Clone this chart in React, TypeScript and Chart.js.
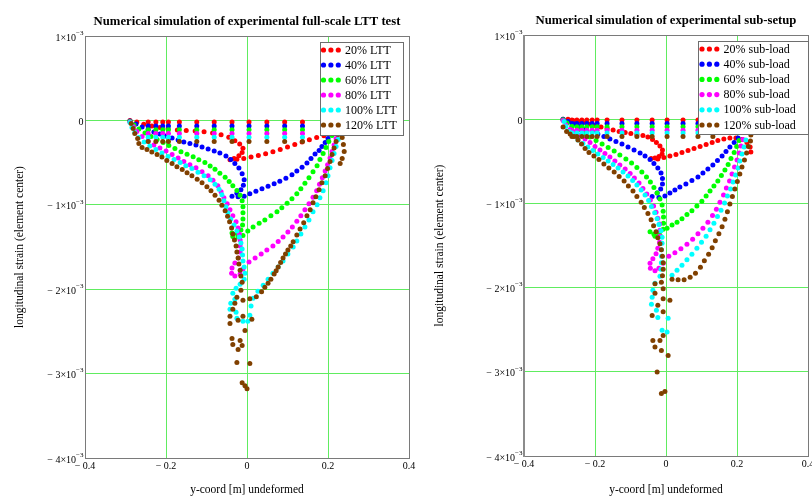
import { useEffect, useRef } from 'react';
import { Chart, registerables } from 'chart.js';

Chart.register(...registerables);

type Pt = [number, number]; // [y-coord in m, strain in 1e-3]

const SERIF = '"Liberation Serif", "Times New Roman", serif';
const GRID = 'rgb(96,236,96)';
const FRAME = '#7a7a7a';

// ---- shared axis / series definitions ----
const xTickValues = [-0.4, -0.2, 0, 0.2, 0.4];
const xTickLabels = ['\u2212 0.4', '\u2212 0.2', '0', '0.2', '0.4'];
const yTickValues = [1e-3, 0, -1e-3, -2e-3, -3e-3, -4e-3];
const yTickBase = ['1\u00d710', '0', '\u2212 1\u00d710', '\u2212 2\u00d710', '\u2212 3\u00d710', '\u2212 4\u00d710'];
const yTickExp = ['\u22123', '', '\u22123', '\u22123', '\u22123', '\u22123'];

const seriesColors = ['#ff0000', '#0000ff', '#00ff00', '#ff00ff', '#00ffff', '#804000'];
const lttLabels = ['20% LTT', '40% LTT', '60% LTT', '80% LTT', '100% LTT', '120% LTT'];
const subLabels = ['20% sub-load', '40% sub-load', '60% sub-load', '80% sub-load', '100% sub-load', '120% sub-load'];

// ---- full-scale LTT test ----
const lttFlangeX = [-0.244, -0.225, -0.208, -0.194, -0.167, -0.124, -0.081, -0.037, 0.005, 0.049, 0.093, 0.137];
const lttFlangeStrain = [-0.02, -0.065, -0.11, -0.155, -0.2, -0.25];

const ltt20: Pt[] = [
  [-0.289, 0], [-0.272, -0.02], [-0.255, -0.045], [-0.235, -0.065], [-0.215, -0.085], [-0.195, -0.1],
  [-0.172, -0.113], [-0.15, -0.12], [-0.128, -0.125], [-0.106, -0.135], [-0.085, -0.15], [-0.064, -0.17],
  [-0.045, -0.2], [-0.03, -0.24], [-0.018, -0.28], [-0.01, -0.33], [-0.012, -0.38], [-0.02, -0.42],
  [-0.032, -0.45], [-0.042, -0.465], [-0.025, -0.46], [-0.008, -0.45], [0.01, -0.435], [0.028, -0.415],
  [0.046, -0.395], [0.064, -0.372], [0.082, -0.345], [0.1, -0.315], [0.118, -0.285], [0.136, -0.255],
  [0.154, -0.228], [0.172, -0.203], [0.19, -0.182], [0.208, -0.162], [0.222, -0.145],
];
const ltt40: Pt[] = [
  [-0.289, -0.006], [-0.274, -0.042], [-0.259, -0.077], [-0.244, -0.107], [-0.23, -0.137], [-0.215, -0.161],
  [-0.2, -0.185], [-0.185, -0.208], [-0.17, -0.232], [-0.156, -0.256], [-0.141, -0.274], [-0.126, -0.292],
  [-0.111, -0.315], [-0.096, -0.339], [-0.081, -0.363], [-0.067, -0.387], [-0.052, -0.423], [-0.04, -0.464],
  [-0.03, -0.512], [-0.02, -0.565], [-0.012, -0.631], [-0.007, -0.702], [-0.009, -0.768], [-0.015, -0.821],
  [-0.025, -0.863], [-0.037, -0.899],
  [-0.022, -0.905], [-0.007, -0.899], [0.007, -0.869], [0.022, -0.839], [0.037, -0.81], [0.052, -0.78],
  [0.067, -0.75], [0.081, -0.72], [0.096, -0.685], [0.111, -0.643], [0.123, -0.601], [0.136, -0.554],
  [0.148, -0.506], [0.158, -0.452], [0.168, -0.399], [0.178, -0.357], [0.185, -0.31], [0.193, -0.262],
  [0.2, -0.214], [0.207, -0.167],
];
const ltt60: Pt[] = [
  [-0.289, -0.012], [-0.279, -0.054], [-0.267, -0.101], [-0.252, -0.149], [-0.237, -0.19], [-0.222, -0.226],
  [-0.207, -0.262], [-0.193, -0.298], [-0.178, -0.332], [-0.163, -0.37], [-0.148, -0.4], [-0.133, -0.43],
  [-0.119, -0.465], [-0.104, -0.5], [-0.091, -0.54], [-0.079, -0.58], [-0.067, -0.625], [-0.054, -0.675],
  [-0.044, -0.725], [-0.035, -0.775], [-0.025, -0.83], [-0.017, -0.887], [-0.012, -0.952], [-0.01, -1.024],
  [-0.01, -1.095], [-0.01, -1.167], [-0.011, -1.238], [-0.015, -1.298], [-0.025, -1.339], [-0.037, -1.333],
  [-0.035, -1.375], [-0.022, -1.381], [-0.01, -1.363],
  [0.002, -1.31], [0.015, -1.262], [0.03, -1.22], [0.044, -1.179], [0.059, -1.131], [0.074, -1.083],
  [0.086, -1.036], [0.099, -0.982], [0.111, -0.929], [0.123, -0.869], [0.133, -0.81], [0.143, -0.744],
  [0.153, -0.679], [0.163, -0.607], [0.173, -0.536], [0.18, -0.464], [0.188, -0.393], [0.195, -0.321],
  [0.202, -0.25], [0.21, -0.179],
];
const ltt80: Pt[] = [
  [-0.289, -0.018], [-0.281, -0.071], [-0.272, -0.131], [-0.259, -0.19], [-0.244, -0.244], [-0.23, -0.292],
  [-0.215, -0.327], [-0.2, -0.363], [-0.185, -0.405], [-0.17, -0.446], [-0.156, -0.488], [-0.141, -0.524],
  [-0.126, -0.56], [-0.111, -0.607], [-0.096, -0.655], [-0.084, -0.708], [-0.072, -0.774], [-0.064, -0.845],
  [-0.057, -0.917], [-0.049, -0.988], [-0.042, -1.06], [-0.035, -1.131], [-0.027, -1.202], [-0.022, -1.274],
  [-0.019, -1.345], [-0.017, -1.417], [-0.017, -1.488], [-0.017, -1.56], [-0.021, -1.631], [-0.03, -1.69],
  [-0.037, -1.75], [-0.038, -1.81], [-0.03, -1.845], [-0.017, -1.821], [-0.01, -1.762],
  [0.005, -1.679], [0.02, -1.631], [0.035, -1.583], [0.049, -1.536], [0.064, -1.488], [0.077, -1.435],
  [0.089, -1.381], [0.101, -1.321], [0.112, -1.262], [0.123, -1.196], [0.133, -1.131], [0.143, -1.06],
  [0.153, -0.988], [0.163, -0.911], [0.172, -0.833], [0.179, -0.756], [0.186, -0.679], [0.193, -0.601],
  [0.199, -0.524], [0.205, -0.446], [0.21, -0.369], [0.215, -0.292], [0.22, -0.214],
];
const ltt100: Pt[] = [
  [-0.289, -0.024], [-0.284, -0.083], [-0.277, -0.143], [-0.267, -0.202], [-0.254, -0.256], [-0.24, -0.304],
  [-0.225, -0.345], [-0.21, -0.387], [-0.195, -0.429], [-0.18, -0.464], [-0.165, -0.5], [-0.151, -0.536],
  [-0.136, -0.571], [-0.121, -0.613], [-0.106, -0.655], [-0.091, -0.702], [-0.079, -0.756], [-0.069, -0.815],
  [-0.062, -0.881], [-0.057, -0.952], [-0.052, -1.024], [-0.047, -1.095], [-0.04, -1.167], [-0.032, -1.238],
  [-0.025, -1.31], [-0.019, -1.381], [-0.015, -1.452], [-0.012, -1.524], [-0.011, -1.595], [-0.01, -1.667],
  [-0.007, -1.738], [-0.005, -1.81], [-0.007, -1.881], [-0.017, -1.94], [-0.027, -1.988], [-0.035, -2.048],
  [-0.03, -2.119], [-0.04, -2.167], [-0.042, -2.238], [-0.027, -2.274], [-0.025, -2.345], [-0.01, -2.381],
  [0.002, -2.381], [0.007, -2.31], [0.01, -2.2],
  [0.015, -2.107], [0.027, -2.024], [0.04, -1.952], [0.052, -1.881], [0.064, -1.81], [0.077, -1.738],
  [0.089, -1.667], [0.101, -1.583], [0.114, -1.5], [0.123, -1.429], [0.133, -1.345], [0.143, -1.262],
  [0.153, -1.179], [0.163, -1.083], [0.173, -1.0], [0.18, -0.917], [0.188, -0.833], [0.195, -0.738],
  [0.2, -0.655], [0.205, -0.56], [0.21, -0.476], [0.215, -0.393], [0.22, -0.31], [0.225, -0.226],
];
const ltt120: Pt[] = [
  [-0.286, -0.036], [-0.281, -0.095], [-0.277, -0.155], [-0.27, -0.214], [-0.267, -0.274], [-0.259, -0.321],
  [-0.247, -0.345], [-0.235, -0.375], [-0.222, -0.405], [-0.21, -0.435], [-0.198, -0.476], [-0.185, -0.512],
  [-0.173, -0.548], [-0.16, -0.583], [-0.148, -0.619], [-0.136, -0.655], [-0.123, -0.696], [-0.111, -0.738],
  [-0.099, -0.786], [-0.089, -0.833], [-0.079, -0.887], [-0.069, -0.946], [-0.062, -1.006], [-0.054, -1.071],
  [-0.048, -1.137], [-0.043, -1.202], [-0.038, -1.274], [-0.035, -1.345], [-0.031, -1.417], [-0.027, -1.488],
  [-0.025, -1.56], [-0.022, -1.631], [-0.02, -1.702], [-0.017, -1.774], [-0.015, -1.845], [-0.012, -1.917],
  [-0.015, -2.012], [-0.025, -2.095], [-0.03, -2.167], [-0.035, -2.238], [-0.042, -2.321], [-0.042, -2.405],
  [-0.022, -2.369], [-0.01, -2.321], [0.012, -2.357], [-0.005, -2.488], [-0.037, -2.583], [-0.035, -2.655],
  [-0.017, -2.607], [-0.012, -2.667], [-0.022, -2.714], [-0.025, -2.869], [0.007, -2.881], [-0.012, -3.107],
  [-0.005, -3.143], [0.0, -3.179],
  [-0.01, -2.131], [0.007, -2.113], [0.023, -2.089], [0.036, -2.03], [0.044, -1.976], [0.052, -1.929],
  [0.059, -1.881], [0.067, -1.821], [0.072, -1.78], [0.077, -1.738], [0.083, -1.685], [0.089, -1.631],
  [0.095, -1.584], [0.101, -1.536], [0.108, -1.487], [0.114, -1.437], [0.123, -1.357], [0.131, -1.286],
  [0.14, -1.214], [0.148, -1.131], [0.156, -1.06], [0.163, -0.976], [0.17, -0.905], [0.178, -0.821],
  [0.185, -0.738], [0.193, -0.655], [0.199, -0.571], [0.205, -0.488], [0.21, -0.405], [0.215, -0.327],
  [0.22, -0.25], [0.225, -0.167], [0.235, -0.202], [0.238, -0.286], [0.24, -0.369], [0.235, -0.452],
  [0.23, -0.512],
];

// ---- sub-setup ----
const subFlangeX = [-0.265, -0.251, -0.237, -0.223, -0.208, -0.194, -0.166, -0.124, -0.082, -0.039, 0.003, 0.048, 0.09, 0.132];
const subFlangeStrain = [-0.01, -0.05, -0.09, -0.13, -0.165, -0.205];

const sub20: Pt[] = [
  [-0.29, 0], [-0.276, -0.002], [-0.262, -0.014], [-0.248, -0.026], [-0.234, -0.038], [-0.217, -0.056],
  [-0.2, -0.074], [-0.183, -0.092], [-0.166, -0.11], [-0.149, -0.127], [-0.132, -0.145], [-0.115, -0.157],
  [-0.099, -0.169], [-0.082, -0.181], [-0.065, -0.193], [-0.051, -0.211], [-0.038, -0.24], [-0.027, -0.276],
  [-0.017, -0.318], [-0.01, -0.365], [-0.011, -0.413], [-0.02, -0.443], [-0.031, -0.461], [-0.042, -0.467],
  [-0.023, -0.473], [-0.006, -0.455], [0.011, -0.437], [0.028, -0.419], [0.045, -0.395], [0.062, -0.371],
  [0.079, -0.348], [0.096, -0.324], [0.113, -0.3], [0.13, -0.276], [0.146, -0.252], [0.163, -0.235],
  [0.18, -0.223], [0.197, -0.223], [0.214, -0.24], [0.228, -0.276], [0.237, -0.33], [0.239, -0.389],
];
const sub40: Pt[] = [
  [-0.29, -0.002], [-0.276, -0.026], [-0.259, -0.056], [-0.242, -0.086], [-0.225, -0.115], [-0.208, -0.145],
  [-0.192, -0.175], [-0.175, -0.205], [-0.158, -0.235], [-0.141, -0.264], [-0.124, -0.294], [-0.107, -0.33],
  [-0.09, -0.365], [-0.073, -0.401], [-0.059, -0.437], [-0.045, -0.479], [-0.034, -0.526], [-0.023, -0.58],
  [-0.014, -0.639], [-0.01, -0.705], [-0.01, -0.77], [-0.015, -0.83], [-0.025, -0.877], [-0.039, -0.919],
  [-0.02, -0.931], [-0.003, -0.913], [0.011, -0.877], [0.025, -0.842], [0.039, -0.806], [0.056, -0.77],
  [0.073, -0.729], [0.09, -0.687], [0.104, -0.639], [0.118, -0.592], [0.132, -0.544], [0.145, -0.49],
  [0.158, -0.437], [0.169, -0.383], [0.18, -0.33], [0.192, -0.276], [0.203, -0.223],
];
const sub60: Pt[] = [
  [-0.29, -0.008], [-0.279, -0.044], [-0.265, -0.086], [-0.248, -0.127], [-0.231, -0.169], [-0.214, -0.211],
  [-0.197, -0.252], [-0.18, -0.294], [-0.163, -0.336], [-0.146, -0.377], [-0.13, -0.425], [-0.113, -0.473],
  [-0.097, -0.52], [-0.082, -0.574], [-0.068, -0.627], [-0.055, -0.687], [-0.044, -0.746], [-0.034, -0.812],
  [-0.025, -0.877], [-0.017, -0.949], [-0.011, -1.02], [-0.008, -1.092], [-0.007, -1.163], [-0.007, -1.235],
  [-0.008, -1.306], [-0.02, -1.348], [-0.034, -1.365], [-0.045, -1.336], [-0.031, -1.389], [-0.017, -1.377],
  [0.003, -1.294], [0.017, -1.258], [0.031, -1.223], [0.045, -1.181], [0.059, -1.133], [0.073, -1.086],
  [0.087, -1.032], [0.101, -0.973], [0.113, -0.913], [0.124, -0.854], [0.135, -0.794], [0.146, -0.735],
  [0.156, -0.669], [0.166, -0.604], [0.175, -0.538], [0.183, -0.467], [0.192, -0.395], [0.199, -0.324],
  [0.206, -0.252],
];
const sub80: Pt[] = [
  [-0.29, -0.014], [-0.282, -0.068], [-0.27, -0.121], [-0.256, -0.151], [-0.242, -0.193], [-0.228, -0.235],
  [-0.214, -0.276], [-0.2, -0.324], [-0.186, -0.365], [-0.172, -0.407], [-0.158, -0.449], [-0.144, -0.496],
  [-0.13, -0.544], [-0.115, -0.592], [-0.101, -0.645], [-0.089, -0.699], [-0.076, -0.758], [-0.065, -0.824],
  [-0.054, -0.889], [-0.044, -0.961], [-0.035, -1.032], [-0.028, -1.104], [-0.023, -1.175], [-0.018, -1.246],
  [-0.017, -1.318], [-0.017, -1.389], [-0.018, -1.46], [-0.023, -1.532], [-0.028, -1.598], [-0.037, -1.657],
  [-0.045, -1.711], [-0.044, -1.77], [-0.031, -1.8], [-0.02, -1.77], [-0.008, -1.711],
  [0.008, -1.627], [0.025, -1.586], [0.042, -1.538], [0.059, -1.485], [0.075, -1.425], [0.09, -1.36],
  [0.104, -1.294], [0.118, -1.223], [0.131, -1.145], [0.142, -1.068], [0.152, -0.985], [0.162, -0.901],
  [0.17, -0.818], [0.179, -0.735], [0.186, -0.651], [0.193, -0.568], [0.2, -0.485], [0.206, -0.401],
  [0.211, -0.318], [0.217, -0.24],
];
const sub100: Pt[] = [
  [-0.287, -0.026], [-0.282, -0.086], [-0.273, -0.145], [-0.262, -0.199], [-0.248, -0.246], [-0.234, -0.288],
  [-0.22, -0.33], [-0.206, -0.371], [-0.192, -0.413], [-0.177, -0.455], [-0.163, -0.496], [-0.149, -0.538],
  [-0.135, -0.58], [-0.121, -0.627], [-0.107, -0.675], [-0.094, -0.729], [-0.082, -0.782], [-0.07, -0.842],
  [-0.059, -0.901], [-0.049, -0.967], [-0.041, -1.038], [-0.032, -1.11], [-0.025, -1.181], [-0.02, -1.252],
  [-0.014, -1.324], [-0.011, -1.401], [-0.011, -1.473], [-0.013, -1.55], [-0.013, -1.627], [-0.013, -1.705],
  [-0.014, -1.782], [-0.017, -1.865], [-0.031, -1.949], [-0.037, -2.032], [-0.039, -2.115], [-0.041, -2.199],
  [-0.027, -2.27], [-0.023, -2.354], [0.006, -2.365], [-0.011, -2.508], [0.003, -2.526],
  [0.017, -1.854], [0.031, -1.794], [0.045, -1.734], [0.059, -1.669], [0.073, -1.604], [0.087, -1.532],
  [0.1, -1.461], [0.113, -1.389], [0.124, -1.312], [0.135, -1.235], [0.145, -1.157], [0.155, -1.08],
  [0.165, -0.996], [0.173, -0.913], [0.182, -0.83], [0.189, -0.746], [0.196, -0.663], [0.203, -0.58],
  [0.208, -0.496], [0.214, -0.413], [0.22, -0.33], [0.225, -0.246],
];
const sub120: Pt[] = [
  [-0.29, -0.092], [-0.28, -0.145], [-0.27, -0.175], [-0.259, -0.205], [-0.248, -0.246], [-0.238, -0.294],
  [-0.228, -0.348], [-0.217, -0.395], [-0.203, -0.437], [-0.189, -0.479], [-0.175, -0.532], [-0.161, -0.58],
  [-0.146, -0.627], [-0.132, -0.681], [-0.118, -0.735], [-0.106, -0.794], [-0.093, -0.854], [-0.082, -0.919],
  [-0.07, -0.985], [-0.061, -1.05], [-0.051, -1.121], [-0.042, -1.193], [-0.035, -1.264], [-0.028, -1.336],
  [-0.023, -1.407], [-0.017, -1.479], [-0.013, -1.55], [-0.01, -1.627], [-0.008, -1.705], [-0.008, -1.782],
  [-0.01, -1.86], [-0.013, -1.937],
  [-0.031, -1.955], [-0.031, -2.068], [-0.008, -2.014], [-0.008, -2.133], [0.011, -2.151], [-0.023, -2.211],
  [-0.039, -2.33], [-0.008, -2.288], [-0.008, -2.568], [-0.037, -2.627], [-0.017, -2.627], [-0.031, -2.705],
  [-0.013, -2.747], [0.006, -2.806], [-0.025, -3.002], [-0.013, -3.258], [-0.003, -3.235],
  [0.017, -1.901], [0.034, -1.907], [0.051, -1.907], [0.068, -1.877], [0.083, -1.83], [0.097, -1.758],
  [0.108, -1.681], [0.12, -1.604], [0.13, -1.526], [0.139, -1.443], [0.149, -1.36], [0.158, -1.276],
  [0.166, -1.187], [0.173, -1.098], [0.18, -1.008], [0.187, -0.919], [0.194, -0.83], [0.201, -0.74],
  [0.208, -0.651], [0.214, -0.568], [0.221, -0.485], [0.227, -0.401], [0.232, -0.324], [0.238, -0.258],
  [0.239, -0.187], [0.231, -0.127],
];

interface LegendBox { x: number; y: number; w: number; h: number; row0: number; rowStep: number; dotX: number; textX: number }
interface Area { left: number; right: number; top: number; bottom: number }

// Draws frame, tick labels, titles and the dotted legend on top of the plot.
const panelDecor = {
  id: 'panelDecor',
  afterDraw(chart: any, _args: unknown, o: any) {
    const { ctx, chartArea: a } = chart;
    const xs = chart.scales.x;
    const ys = chart.scales.y;
    ctx.save();

    // frame
    ctx.strokeStyle = FRAME;
    ctx.lineWidth = 1;
    ctx.strokeRect(a.left + 0.5, a.top + 0.5, a.right - a.left, a.bottom - a.top);
    if (o.axisWidth > 1) {
      ctx.lineWidth = o.axisWidth;
      ctx.strokeStyle = '#8c8c8c';
      ctx.beginPath();
      ctx.moveTo(a.left, a.top);
      ctx.lineTo(a.left, a.bottom + 1);
      ctx.stroke();
    }

    ctx.fillStyle = '#000';
    // x tick labels
    ctx.font = `10px ${SERIF}`;
    ctx.textAlign = 'center';
    ctx.textBaseline = 'middle';
    xTickValues.forEach((v, i) => {
      ctx.fillText(xTickLabels[i], xs.getPixelForValue(v), a.bottom + 8);
    });

    // y tick labels with raised exponent
    yTickValues.forEach((v, i) => {
      const py = ys.getPixelForValue(v);
      const right = a.left - 1.5;
      ctx.textAlign = 'left';
      ctx.font = `7px ${SERIF}`;
      const ew = yTickExp[i] ? ctx.measureText(yTickExp[i]).width : 0;
      ctx.font = `10px ${SERIF}`;
      const bw = ctx.measureText(yTickBase[i]).width;
      ctx.fillText(yTickBase[i], right - ew - bw, py + 2);
      if (yTickExp[i]) {
        ctx.font = `7px ${SERIF}`;
        ctx.fillText(yTickExp[i], right - ew, py - 3);
      }
    });

    // chart title
    ctx.textAlign = 'center';
    ctx.font = `bold 12.7px ${SERIF}`;
    ctx.fillText(o.title, (a.left + a.right) / 2, o.titleY);

    // axis titles
    ctx.font = `11.5px ${SERIF}`;
    ctx.fillText('y-coord [m] undeformed', (a.left + a.right) / 2, o.xTitleY);
    ctx.save();
    ctx.translate(o.yTitleX, (a.top + a.bottom) / 2);
    ctx.rotate(-Math.PI / 2);
    ctx.fillText('longitudinal strain (element center)', 0, 0);
    ctx.restore();

    // legend
    const L: LegendBox = o.legend;
    ctx.fillStyle = '#fff';
    ctx.fillRect(L.x, L.y, L.w, L.h);
    ctx.strokeStyle = '#6e6e6e';
    ctx.lineWidth = 1;
    ctx.strokeRect(L.x + 0.5, L.y + 0.5, L.w, L.h);
    chart.data.datasets.forEach((ds: any, i: number) => {
      const cy = L.row0 + i * L.rowStep;
      ctx.fillStyle = ds.backgroundColor;
      for (let k = 0; k < 3; k++) {
        ctx.beginPath();
        ctx.arc(L.dotX + k * 7.4, cy, 2.6, 0, Math.PI * 2);
        ctx.fill();
      }
      ctx.fillStyle = '#000';
      ctx.font = `12px ${SERIF}`;
      ctx.textAlign = 'left';
      ctx.textBaseline = 'middle';
      ctx.fillText(ds.label, L.textX, cy + 0.5);
    });
    ctx.restore();
  },
};

interface PanelProps {
  left: number;
  width: number;
  height: number;
  area: Area;
  title: string;
  titleY: number;
  labels: string[];
  flangeX: number[];
  flangeStrain: number[];
  curves: Pt[][];
  legend: LegendBox;
  axisWidth: number;
}

function StrainPanel(p: PanelProps) {
  const ref = useRef<HTMLCanvasElement>(null);
  useEffect(() => {
    const canvas = ref.current;
    if (!canvas) return;
    const n = p.curves.length;
    const datasets = p.curves.map((curve, i) => ({
      label: p.labels[i],
      data: [
        ...p.flangeX.map((x) => ({ x, y: p.flangeStrain[i] * 1e-3 })),
        ...curve.map(([x, y]) => ({ x, y: y * 1e-3 })),
      ],
      backgroundColor: seriesColors[i],
      borderWidth: 0,
      pointRadius: 2.5,
      pointHoverRadius: 2.5,
      order: n - 1 - i,
    }));
    const edgeless = (count: number) => (c: any) =>
      c.index === 0 || c.index === count - 1 ? 'rgba(0,0,0,0)' : GRID;
    const chart = new Chart(canvas, {
      type: 'scatter',
      data: { datasets },
      options: {
        responsive: false,
        animation: false,
        devicePixelRatio: 1,
        events: [],
        layout: { padding: { left: 0, top: p.area.top, right: p.width - p.area.right, bottom: 0 } },
        plugins: {
          legend: { display: false },
          title: { display: false },
          tooltip: { enabled: false },
          panelDecor: {
            title: p.title,
            titleY: p.titleY,
            xTitleY: 490,
            yTitleX: 20,
            legend: p.legend,
            axisWidth: p.axisWidth,
          },
        } as any,
        scales: {
          x: {
            type: 'linear',
            min: -0.4,
            max: 0.4,
            ticks: { display: false, stepSize: 0.2 },
            grid: { color: edgeless(5), drawTicks: false, lineWidth: 1 },
            border: { display: false },
            afterFit: (s: any) => { s.height = p.height - p.area.bottom; },
          },
          y: {
            type: 'linear',
            min: -4e-3,
            max: 1e-3,
            ticks: { display: false, stepSize: 1e-3 },
            grid: { color: edgeless(6), drawTicks: false, lineWidth: 1 },
            border: { display: false },
            afterFit: (s: any) => { s.width = p.area.left; },
          },
        },
      },
      plugins: [panelDecor],
    });
    return () => chart.destroy();
  }, []);
  return (
    <canvas
      ref={ref}
      width={p.width}
      height={p.height}
      style={{ position: 'absolute', left: p.left, top: 0, width: p.width, height: p.height }}
    />
  );
}

export default function App() {
  return (
    <div style={{ position: 'fixed', left: 0, top: 0, width: 812, height: 497, background: '#fff', overflow: 'hidden' }}>
      <StrainPanel
        left={0}
        width={420}
        height={497}
        area={{ left: 85, right: 409, top: 36, bottom: 458 }}
        title="Numerical simulation of experimental full-scale LTT test"
        titleY={22}
        labels={lttLabels}
        flangeX={lttFlangeX}
        flangeStrain={lttFlangeStrain}
        curves={[ltt20, ltt40, ltt60, ltt80, ltt100, ltt120]}
        legend={{ x: 320, y: 42, w: 83, h: 93, row0: 50, rowStep: 15, dotX: 323.5, textX: 345 }}
        axisWidth={1}
      />
      <StrainPanel
        left={420}
        width={392}
        height={497}
        area={{ left: 104, right: 388, top: 35, bottom: 456 }}
        title="Numerical simulation of experimental sub-setup"
        titleY={21}
        labels={subLabels}
        flangeX={subFlangeX}
        flangeStrain={subFlangeStrain}
        curves={[sub20, sub40, sub60, sub80, sub100, sub120]}
        legend={{ x: 278, y: 41, w: 110, h: 93, row0: 49, rowStep: 15.2, dotX: 282, textX: 303.5 }}
        axisWidth={2}
      />
    </div>
  );
}
